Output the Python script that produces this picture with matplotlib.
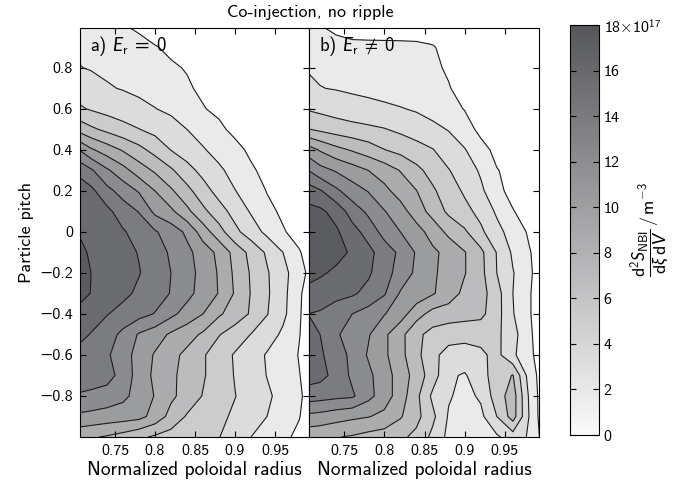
import numpy as np
import matplotlib
matplotlib.use("Agg")
import matplotlib.pyplot as plt
from matplotlib.colors import LinearSegmentedColormap, Normalize
from matplotlib.cm import ScalarMappable

plt.rcParams['font.family'] = ['cmss10', 'DejaVu Sans']
plt.rcParams['font.size'] = 11
plt.rcParams['mathtext.fontset'] = 'custom'
plt.rcParams['mathtext.rm'] = 'cmss10'
plt.rcParams['mathtext.sf'] = 'cmss10'
plt.rcParams['mathtext.it'] = 'Lato:italic'
plt.rcParams['axes.linewidth'] = 0.8

# grid of the source density (units of 1e17 m^-3)
rho = [0.705, 0.72, 0.74, 0.76, 0.78, 0.80, 0.82, 0.84, 0.86, 0.88,
       0.90, 0.92, 0.94, 0.96, 0.98, 0.995]
pitch = [1.0, 0.9, 0.8, 0.7, 0.6, 0.5, 0.4, 0.3, 0.2, 0.1, 0.0,
         -0.1, -0.2, -0.3, -0.4, -0.5, -0.6, -0.7, -0.8, -0.9, -1.0]

# a) Er = 0
src_er0 = [
    [1.5, 1.4, 1.1, 0.6, 0.3, 0.1, 0, 0, 0, 0, 0, 0, 0, 0, 0, 0],
    [1.8, 1.7, 1.5, 1.2, 0.9, 0.55, 0.35, 0.2, 0.05, 0, 0, 0, 0, 0, 0, 0],
    [2.05, 1.9, 1.7, 1.5, 1.2, 0.9, 0.6, 0.45, 0.2, 0.05, 0, 0, 0, 0, 0, 0],
    [3.0, 2.6, 2.15, 1.9, 1.6, 1.3, 1.0, 0.6, 0.35, 0.1, 0, 0, 0, 0, 0, 0],
    [4.3, 3.8, 3.3, 2.9, 2.5, 2.05, 1.6, 1.1, 0.55, 0.3, 0.05, 0, 0, 0, 0, 0],
    [7.3, 6.4, 5.5, 4.7, 4.05, 3.4, 2.8, 2.0, 1.3, 0.7, 0.25, 0.05, 0, 0, 0, 0],
    [12.0, 10.3, 9.0, 7.8, 6.6, 5.3, 3.95, 3.0, 2.15, 1.4, 0.8, 0.3, 0.05, 0, 0, 0],
    [15.5, 14.3, 12.3, 10.7, 9.0, 7.7, 6.3, 4.7, 3.4, 2.3, 1.4, 0.65, 0.2, 0, 0, 0],
    [17.0, 16.5, 14.6, 13.2, 11.8, 10.0, 8.3, 6.6, 4.8, 3.3, 2.05, 1.2, 0.45, 0.1, 0, 0],
    [17.5, 17.2, 16.5, 15.0, 13.9, 11.5, 10.4, 8.5, 6.5, 4.8, 3.3, 1.8, 0.8, 0.3, 0, 0],
    [17.9, 17.6, 17.0, 16.2, 15.2, 14.2, 13.1, 11.6, 9.0, 6.8, 4.5, 3.0, 1.5, 0.6, 0.1, 0],
    [18.4, 17.8, 17.2, 16.6, 15.9, 15.0, 13.7, 12.5, 11.1, 9.5, 7.3, 5.4, 3.7, 2.0, 0.6, 0],
    [18.8, 18.0, 17.3, 16.8, 16.1, 15.1, 14.0, 12.8, 11.3, 9.8, 7.6, 5.8, 4.2, 2.6, 0.9, 0.2],
    [18.7, 17.95, 17.1, 16.5, 15.6, 14.9, 13.9, 12.6, 11.2, 9.9, 7.8, 5.9, 4.3, 2.5, 0.65, 0],
    [17.4, 16.9, 16.1, 15.3, 14.7, 13.9, 12.5, 11.2, 10.0, 8.3, 7.0, 5.8, 4.1, 2.4, 0.6, 0],
    [16.6, 15.9, 14.9, 13.5, 11.8, 10.9, 9.7, 8.8, 7.7, 6.1, 5.1, 3.95, 2.8, 1.7, 0.55, 0],
    [15.3, 15.0, 14.3, 12.8, 11.3, 9.8, 8.6, 7.5, 6.2, 5.0, 3.8, 2.8, 1.85, 1.1, 0.45, 0],
    [15.0, 14.9, 14.7, 13.3, 11.1, 9.6, 8.4, 7.3, 6.2, 5.0, 3.9, 2.9, 1.95, 1.2, 0.55, 0],
    [13.8, 13.6, 13.2, 12.5, 11.2, 9.9, 8.4, 7.2, 5.9, 5.0, 4.05, 3.2, 2.3, 1.4, 0.7, 0],
    [11.6, 11.4, 11.1, 10.9, 10.6, 9.3, 7.3, 5.8, 5.1, 4.4, 3.7, 3.0, 2.0, 1.3, 0.55, 0],
    [8.5, 8.2, 7.8, 7.2, 6.4, 5.7, 5.2, 4.8, 4.4, 4.05, 3.2, 2.0, 1.3, 0.7, 0.3, 0],
]

# b) Er != 0
src_er = [
    [0.8, 0.55, 0.3, 0.2, 0.2, 0.2, 0.2, 0.2, 0.15, 0.05, 0, 0, 0, 0, 0, 0],
    [1.3, 1.0, 0.8, 0.68, 0.66, 0.65, 0.64, 0.62, 0.55, 0.3, 0.05, 0, 0, 0, 0, 0],
    [1.9, 1.7, 1.5, 1.3, 1.15, 1.0, 0.9, 0.8, 0.65, 0.4, 0.1, 0, 0, 0, 0, 0],
    [2.3, 2.05, 1.9, 1.7, 1.5, 1.3, 1.1, 0.95, 0.75, 0.55, 0.2, 0.05, 0, 0, 0, 0],
    [3.8, 3.5, 3.1, 2.8, 2.6, 2.35, 2.1, 1.8, 1.3, 0.9, 0.45, 0.15, 0, 0, 0, 0],
    [6.1, 5.6, 5.1, 4.7, 4.4, 4.1, 3.6, 3.0, 2.5, 1.9, 1.0, 0.2, 0.05, 0, 0, 0],
    [11.0, 9.8, 8.6, 7.8, 7.0, 6.05, 5.4, 4.8, 4.1, 3.0, 2.1, 0.9, 0.2, 0, 0, 0],
    [14.0, 12.7, 11.8, 10.9, 10.0, 9.1, 7.9, 6.5, 5.3, 4.1, 3.0, 1.75, 0.55, 0.2, 0, 0],
    [17.0, 16.2, 14.4, 12.9, 11.9, 10.5, 9.2, 8.05, 6.3, 5.0, 3.7, 2.35, 0.75, 0.2, 0, 0],
    [18.6, 18.4, 17.3, 15.1, 13.6, 12.1, 10.8, 9.0, 7.3, 5.6, 4.6, 3.4, 1.7, 0.55, 0.1, 0],
    [19.0, 18.8, 18.3, 16.8, 15.2, 13.3, 12.0, 10.8, 9.2, 7.5, 6.3, 4.4, 2.6, 1.2, 0.35, 0],
    [19.4, 19.2, 18.7, 17.7, 16.6, 15.0, 13.6, 11.8, 10.4, 9.4, 8.1, 6.5, 3.9, 1.7, 0.6, 0],
    [18.8, 18.3, 17.6, 16.9, 16.3, 14.8, 13.2, 11.6, 10.3, 9.3, 8.1, 6.6, 4.0, 2.1, 0.7, 0],
    [17.3, 17.0, 16.6, 16.3, 15.4, 14.2, 11.8, 11.2, 10.2, 9.0, 7.5, 6.8, 4.8, 2.0, 0.6, 0],
    [16.0, 15.8, 15.0, 14.0, 13.2, 12.1, 10.9, 8.8, 7.3, 7.0, 6.8, 6.5, 4.8, 2.1, 0.6, 0],
    [16.5, 16.0, 14.3, 13.0, 12.2, 10.4, 8.6, 6.5, 5.3, 4.8, 4.6, 4.7, 4.5, 2.6, 0.7, 0],
    [16.8, 16.3, 15.0, 13.5, 11.8, 10.4, 8.6, 6.6, 4.5, 3.3, 3.2, 3.6, 4.6, 2.3, 0.8, 0],
    [16.9, 16.6, 15.4, 13.6, 12.5, 10.8, 9.2, 7.1, 5.0, 2.3, 1.8, 3.2, 5.0, 6.1, 1.2, 0.1],
    [15.0, 14.8, 14.5, 14.3, 12.6, 11.0, 9.0, 6.5, 3.6, 2.2, 1.4, 2.3, 5.0, 7.0, 1.8, 0.0],
    [11.5, 11.3, 10.8, 10.4, 10.1, 9.5, 8.2, 6.6, 4.5, 1.8, 1.2, 1.5, 4.0, 6.9, 2.0, 0.0],
    [8.6, 8.4, 8.1, 7.8, 7.3, 7.0, 6.4, 5.5, 3.5, 1.5, 1.0, 1.2, 1.7, 3.0, 1.8, 0.3],
]

levels = [0.5, 2, 4, 6, 8, 10, 12, 14, 16, 18]
cbar_ticks = [0, 2, 4, 6, 8, 10, 12, 14, 16, 18]
cbar_labels = ['0', '2', '4', '6', '8', '10', '12', '14', '16', r'$18{\times}10^{17}$']
xticks = [0.75, 0.8, 0.85, 0.9, 0.95]
xtick_labels = ['0.75', '0.8', '0.85', '0.9', '0.95']
yticks = [-0.8, -0.6, -0.4, -0.2, 0, 0.2, 0.4, 0.6, 0.8]
ytick_labels = ['\u22120.8', '\u22120.6', '\u22120.4', '\u22120.2', '0',
                '0.2', '0.4', '0.6', '0.8']
panels = [(src_er0, r'a) $E_{\mathrm{r}}\;=\;0$'),
          (src_er, r'b) $E_{\mathrm{r}}\;\neq\;0$')]
cbar_title = (r'$\dfrac{\mathrm{d}^2 S_{\mathrm{NBI}}}{\mathrm{d}\xi\;\mathrm{d}V}'
              r'\,/\,\mathrm{m}^{-3}$')

cmap = LinearSegmentedColormap.from_list('sgray', ['#fafafa', '#56575b'])
cmap = cmap.with_extremes(over='#5b5c5f')

fig = plt.figure(figsize=(6.76, 4.90), dpi=100)
ax_a = fig.add_axes([80 / 676, 53 / 490, 229 / 676, 409 / 490])
ax_b = fig.add_axes([309 / 676, 53 / 490, 230 / 676, 409 / 490])
cax = fig.add_axes([570 / 676, 55 / 490, 29 / 676, 410 / 490])

for ax, (src, tag) in zip([ax_a, ax_b], panels):
    z = np.array(src)
    ax.contourf(rho, pitch, z, levels=levels, cmap=cmap, vmin=-0.8, vmax=19.7,
                extend='max')
    ax.contour(rho, pitch, z, levels=levels, colors='#1e1e1e', linewidths=0.8)
    ax.set_xlim(0.70625, 0.9925)
    ax.set_ylim(-1.0, 0.994)
    ax.set_xticks(xticks, labels=xtick_labels)
    ax.set_yticks(yticks, labels=ytick_labels)
    ax.tick_params(direction='in', top=True, right=True, length=4, width=0.8,
                   labelsize=11.5, pad=5)
    ax.set_xlabel('Normalized poloidal radius', fontsize=14, labelpad=2)
    ax.text(0.045, 0.955, tag, transform=ax.transAxes, ha='left', va='center',
            fontsize=13.5)

ax_a.set_ylabel('Particle pitch', fontsize=13, labelpad=4)
ax_b.tick_params(labelleft=False)

fig.text(310 / 676, 1 - 12 / 490, 'Co-injection, no ripple', ha='center',
         va='center', fontsize=13)

cb = fig.colorbar(ScalarMappable(norm=Normalize(0, 18), cmap=cmap), cax=cax)
cb.set_ticks(cbar_ticks, labels=cbar_labels)
cb.outline.set_linewidth(0.8)
cax.tick_params(direction='in', left=True, right=True, length=4, width=0.8,
                labelsize=11.5)
cax.text(2.75, 0.5, cbar_title, transform=cax.transAxes, rotation=90,
         ha='center', va='center', fontsize=13)

fig.savefig('out.png', dpi=100)
